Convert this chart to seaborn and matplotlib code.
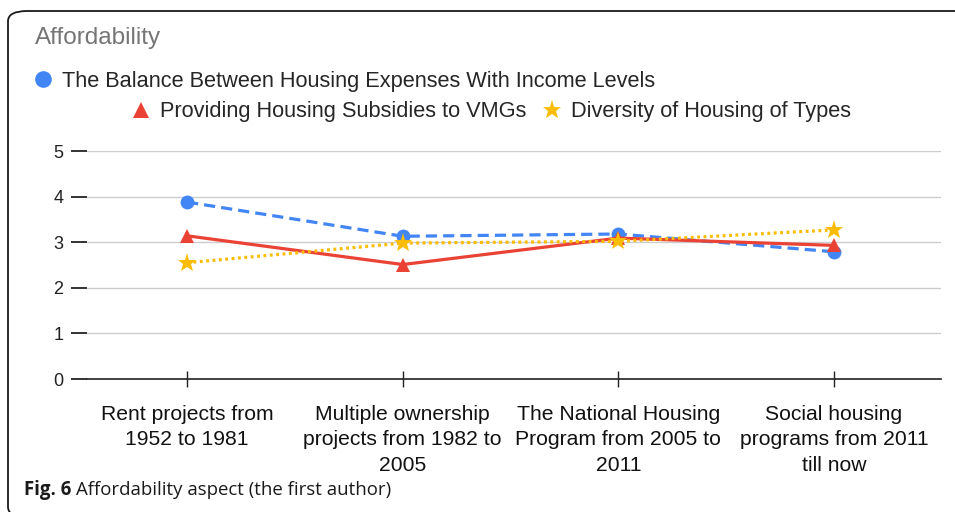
import matplotlib
matplotlib.use('Agg')
import matplotlib.pyplot as plt
from matplotlib.lines import Line2D
from matplotlib.patches import FancyBboxPatch
import seaborn as sns
import pandas as pd

# data
periods = ["Rent projects from\n1952 to 1981",
           "Multiple ownership\nprojects from 1982 to\n2005",
           "The National Housing\nProgram from 2005 to\n2011",
           "Social housing\nprograms from 2011\ntill now"]
series_names = ["The Balance Between Housing Expenses With Income Levels",
                "Providing Housing Subsidies to VMGs",
                "Diversity of Housing of Types"]
balance = [3.88, 3.13, 3.18, 2.79]
subsidies = [3.14, 2.51, 3.09, 2.93]
diversity = [2.55, 2.98, 3.02, 3.27]
y_ticks = [0, 1, 2, 3, 4, 5]

colors = {series_names[0]: "#4285F4", series_names[1]: "#EA4335", series_names[2]: "#FBBC04"}
markers = {series_names[0]: "o", series_names[1]: "^", series_names[2]: "*"}
dashes = {series_names[0]: (3.5, 1.9), series_names[1]: "", series_names[2]: (0.9, 1.1)}
msizes = {series_names[0]: 10, series_names[1]: 10, series_names[2]: 14}

rows = []
for name, vals in zip(series_names, [balance, subsidies, diversity]):
    for i, v in enumerate(vals):
        rows.append({"x": i, "value": v, "series": name})
df = pd.DataFrame(rows)

sns.set_style("white")
plt.rcParams['font.family'] = ['Liberation Sans', 'DejaVu Sans']

fig = plt.figure(figsize=(9.55, 5.12), dpi=100)
ax = fig.add_axes([87 / 955, 1 - 379 / 512, (941 - 87) / 955, (379 - 151) / 512])

sns.lineplot(data=df, x="x", y="value", hue="series", style="series",
             hue_order=series_names, style_order=series_names,
             palette=colors, markers=markers, dashes=dashes,
             linewidth=2.3, legend=False, ax=ax)
for line, name in zip(ax.get_lines(), series_names):
    line.set_markersize(msizes[name])
    line.set_markeredgewidth(0)

ax.set_xlim(-0.464, 3.496)
ax.set_ylim(0, 5)
ax.set_yticks(y_ticks)
ax.set_xticks(range(len(periods)))
ax.set_xticklabels(periods, fontsize=15.2, color="#111111", linespacing=1.45)
ax.set_xlabel("")
ax.set_ylabel("")
ax.grid(axis="y", color="#cccccc", linewidth=1)
ax.set_axisbelow(True)
for s in ["top", "right", "left"]:
    ax.spines[s].set_visible(False)
ax.spines["bottom"].set_color("#222222")
ax.spines["bottom"].set_linewidth(1.2)
ax.tick_params(axis="y", length=11.5, width=1.2, color="#111111", pad=5.5,
               labelsize=13, labelcolor="#222222", left=True)
ax.tick_params(axis="x", direction="inout", length=11, width=1, color="#222222",
               pad=13, bottom=True)

# legend rows
h1 = [Line2D([], [], linestyle="none", marker=markers[series_names[0]],
             color=colors[series_names[0]], markersize=12, markeredgewidth=0)]
fig.legend(h1, series_names[:1], loc="center left", frameon=False,
           bbox_to_anchor=(24 / 955, 1 - 81 / 512), fontsize=15.7,
           handlelength=0.9, handletextpad=0.42, borderaxespad=0)
h2 = [Line2D([], [], linestyle="none", marker=markers[n], color=colors[n],
             markersize=(11 if n == series_names[1] else 14), markeredgewidth=0)
      for n in series_names[1:]]
fig.legend(h2, series_names[1:], loc="center left", frameon=False, ncol=2,
           bbox_to_anchor=(122 / 955, 1 - 112 / 512), fontsize=15.7,
           handlelength=0.9, handletextpad=0.42, columnspacing=0.75,
           borderaxespad=0)

fig.text(35 / 955, 1 - 38 / 512, "Affordability", fontsize=17.5, color="#757575",
         va="center", ha="left")

# frame around the chart
frame = FancyBboxPatch((8 / 955, -0.01), 1.2, 1 - 11 / 512 + 0.01,
                       boxstyle="round,pad=0,rounding_size=0.02",
                       transform=fig.transFigure, fill=False,
                       edgecolor="#1a1a1a", linewidth=1.3, clip_on=False)
fig.patches.append(frame)

cap_font = ["Open Sans", "DejaVu Sans"]
bold = fig.text(24 / 955, 1 - 490 / 512, "Fig. 6", fontsize=13.4, fontweight="bold",
                family=cap_font, va="center", ha="left", color="#1a1a1a")
renderer = fig.canvas.get_renderer()
bb = bold.get_window_extent(renderer)
fig.text((bb.x1 + 5) / 955, 1 - 490 / 512, "Affordability aspect (the first author)",
         fontsize=13.4, family=cap_font, va="center", ha="left", color="#1a1a1a")

fig.savefig("out.png", dpi=100, facecolor="white")
